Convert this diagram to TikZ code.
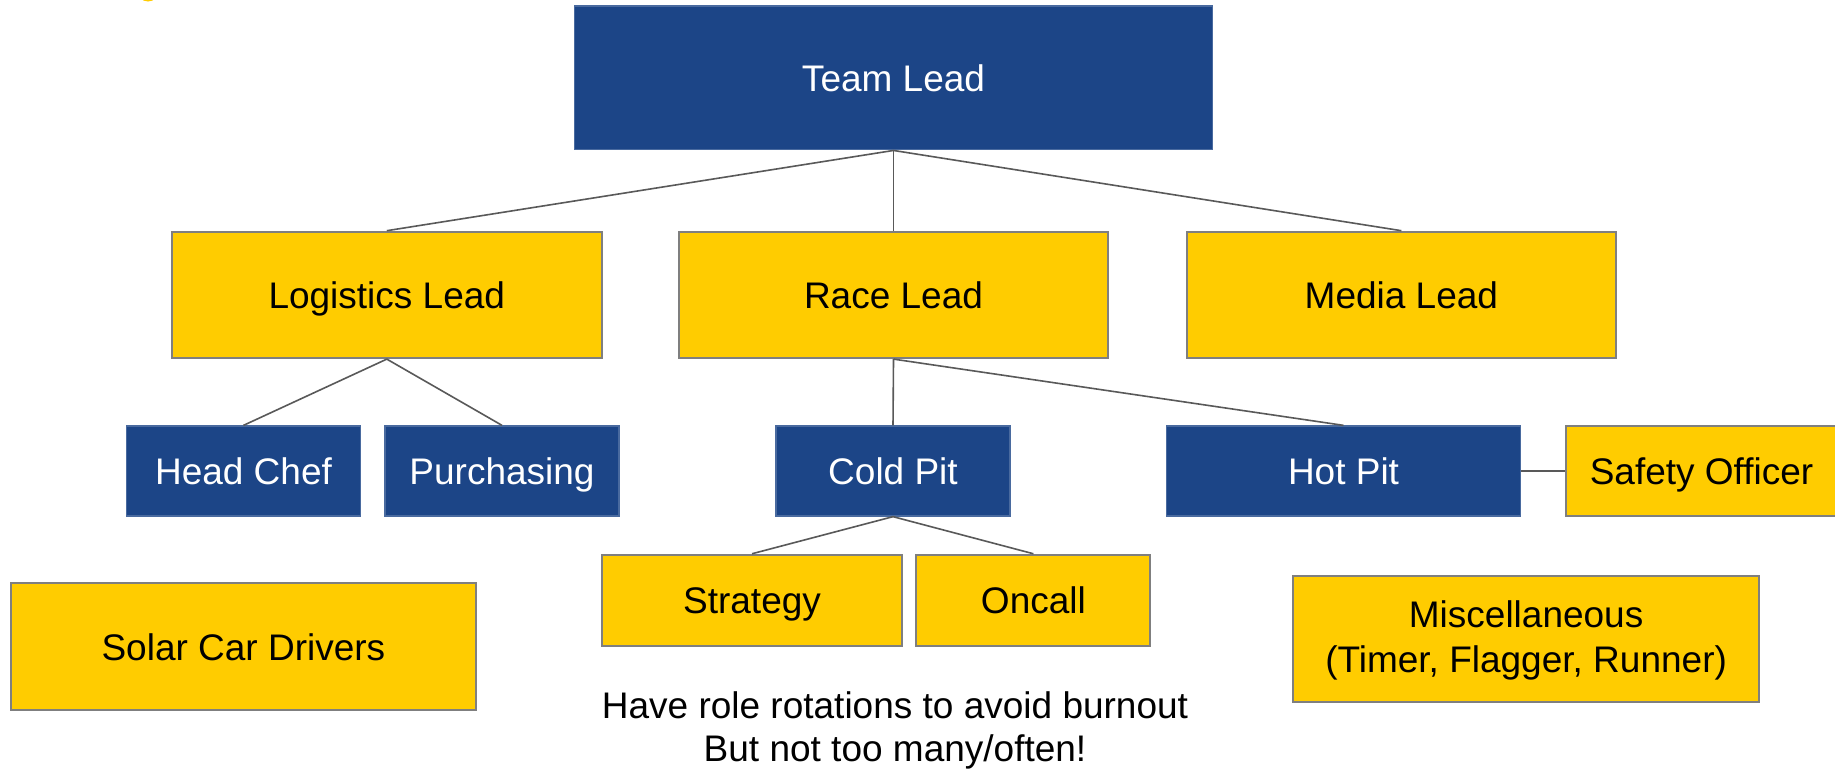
\documentclass[tikz,border=0pt]{standalone}
\usepackage{fontspec}
\setmainfont{Liberation Sans}
\definecolor{navy}{HTML}{1C4587}
\definecolor{gold}{HTML}{FFCC00}
\definecolor{edgegrey}{HTML}{7F7F7F}
\definecolor{linegrey}{HTML}{595959}
\begin{document}
\begin{tikzpicture}[x=1pt,y=-1pt,
  base/.style={rectangle, inner sep=0pt, align=center, font=\fontsize{37}{45}\selectfont},
  oneline/.style={text height=27pt, text depth=0pt},
  bluebox/.style={base, oneline, fill=navy, draw=navy!80!white, line width=1.2pt, text=white},
  goldbox/.style={base, oneline, fill=gold, draw=edgegrey, line width=2pt, text=black},
  link/.style={draw=linegrey, line width=1.6pt}]
\useasboundingbox (0,0) rectangle (1835,769);
\clip (0,0) rectangle (1835,769);
\fill[white] (0,0) rectangle (1835,769);
% small cut-off yellow shape at the top left
\fill[gold] (148,-10) ellipse (11 and 11.5);

\node[bluebox, minimum width=637.8, minimum height=143.9] (team) at (893.5,77.9) {Team Lead};

\node[goldbox, minimum width=429.5, minimum height=126.4] (log) at (386.8,294.9) {Logistics Lead};
\node[goldbox, minimum width=429.5, minimum height=126.4] (race) at (893.5,294.9) {Race Lead};
\node[goldbox, minimum width=429.5, minimum height=126.4] (media) at (1401.4,294.9) {Media Lead};

\node[bluebox, minimum width=234, minimum height=90.1] (chef) at (243.5,471) {Head Chef};
\node[bluebox, minimum width=234, minimum height=90.1] (purch) at (502,471) {Purchasing};
\node[bluebox, minimum width=234, minimum height=90.1] (cold) at (893,471) {Cold Pit};
\node[bluebox, minimum width=353.4, minimum height=90.1] (hot) at (1343.5,471) {Hot Pit};
\node[goldbox, minimum width=271, minimum height=90.1] (safety) at (1701.5,471) {Safety Officer};

\node[goldbox, minimum width=300.8, minimum height=91.3] (strat) at (752,600.4) {Strategy};
\node[goldbox, minimum width=234, minimum height=91.3] (oncall) at (1033.4,600.4) {Oncall};

\node[goldbox, minimum width=465.8, minimum height=127.6] (solar) at (243.4,646.6) {Solar Car Drivers};
\node[base, fill=gold, draw=edgegrey, line width=2pt, text=black, minimum width=465.8, minimum height=126.4] (misc) at (1526.1,639) {\rule{0pt}{30pt}Miscellaneous\\(Timer, Flagger, Runner)};

\node[base, text=black, font=\fontsize{37}{43.5}\selectfont] (note) at (895,730.5) {Have role rotations to avoid burnout\\But not too many/often!};

\path[link] (team.south) -- (log.north);
\path[link] (team.south) -- (race.north);
\path[link] (team.south) -- (media.north);
\path[link] (log.south) -- (chef.north);
\path[link] (log.south) -- (purch.north);
\path[link] (race.south) -- (cold.north);
\path[link] (race.south) -- (hot.north);
\path[link] (cold.south) -- (strat.north);
\path[link] (cold.south) -- (oncall.north);
\path[link] (hot.east) -- (safety.west);
\end{tikzpicture}
\end{document}
